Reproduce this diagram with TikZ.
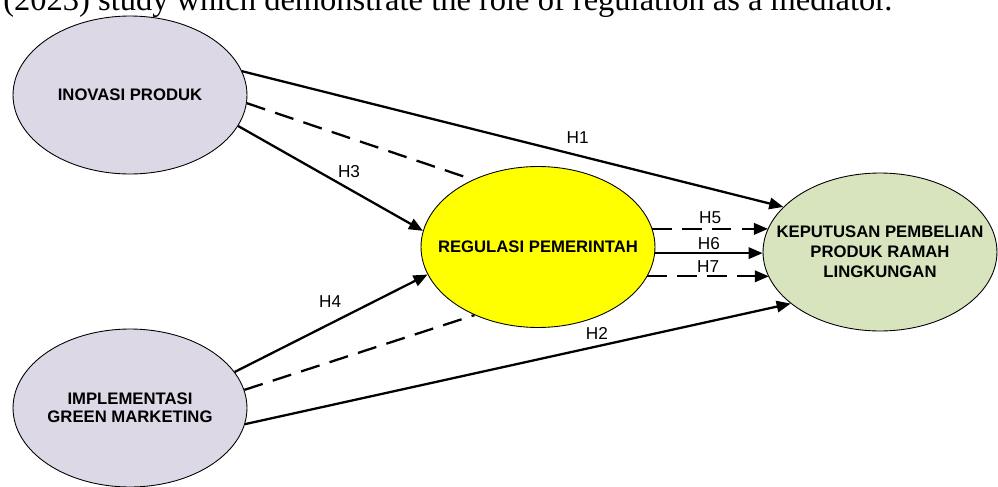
\documentclass[tikz,border=0pt]{standalone}
\usepackage{fontspec}
\setmainfont{Liberation Sans}
\newfontfamily\bodyserif{Liberation Serif}
\definecolor{lilac}{RGB}{220,216,230}
\definecolor{sage}{RGB}{215,228,189}
\definecolor{canary}{RGB}{255,255,0}
\usepackage{tikz}
\usetikzlibrary{arrows.meta,shapes.geometric}

\begin{document}
\begin{tikzpicture}[x=0.02cm, y=-0.02cm,
    construct/.style={ellipse, draw, line width=0.5pt, minimum width=4.68cm, minimum height=3.16cm, inner sep=0pt},
    caption/.style={font=\fontsize{9.5}{11.3}\selectfont\bfseries, align=center, inner sep=0pt},
    hyp/.style={line width=1.3pt, -{Triangle[length=8pt,width=6.5pt]}},
    mediated/.style={line width=1.3pt, dash pattern=on 11pt off 6pt},
    hlabel/.style={font=\fontsize{9.8}{11}\selectfont, inner sep=0pt}]
  \useasboundingbox (0,0) rectangle (998,487);
  \clip (0,0) rectangle (998,487);
  %% line of body text cut by the figure
  \node[anchor=base west, inner sep=0pt, font=\bodyserif\fontsize{18.5}{20}\selectfont] (spill) at (3,10)
    {(2023) study which demonstrate the role of regulation as a mediator.};
  %% Constructs
  \node[construct, fill=lilac, label={[caption]center:INOVASI PRODUK}] (inov) at (130,95) {};
  \node[construct, fill=lilac, label={[caption]center:{IMPLEMENTASI\\[-1.3pt]GREEN MARKETING}}] (impl) at (130,408) {};
  \node[construct, fill=canary, minimum height=3.22cm, label={[caption]center:REGULASI PEMERINTAH}] (reg) at (538,247) {};
  \node[construct, fill=sage, label={[caption]center:{KEPUTUSAN PEMBELIAN\\PRODUK RAMAH\\LINGKUNGAN}}] (kep) at (880,252) {};
  %% Direct effects
  \draw[hyp] (inov.12) -- (kep.155) node[hlabel, pos=0.62, above=6pt] (h1) {H1};
  \draw[hyp] (impl.-8) -- (kep.210) node[hlabel, pos=0.645, above=3.3pt] (h2) {H2};
  %% Paths into the mediator
  \draw[hyp] (inov.-16) -- (reg.172) node[hlabel, pos=0.6, above=6pt] (h3) {H3};
  \draw[hyp] (impl.19) -- (reg.194) node[hlabel, pos=0.495, above=8.6pt] (h4) {H4};
  %% Indirect (mediated) links
  \draw[mediated] (inov.-4) -- (reg.134);
  \draw[mediated] (impl.9) -- (reg.227);
  %% Mediator to outcome
  \draw[hyp, mediated] (reg.9) -- (reg.9 -| kep.168) node[hlabel, midway, above=2.1pt] (h5) {H5};
  \draw[hyp] (reg.-3) -- (reg.-3 -| kep.181) node[hlabel, midway, above=1.5pt] (h6) {H6};
  \draw[hyp, mediated] (reg.-15) -- (reg.-15 -| kep.193) node[hlabel, midway, above=1.5pt] (h7) {H7};
\end{tikzpicture}
\end{document}
